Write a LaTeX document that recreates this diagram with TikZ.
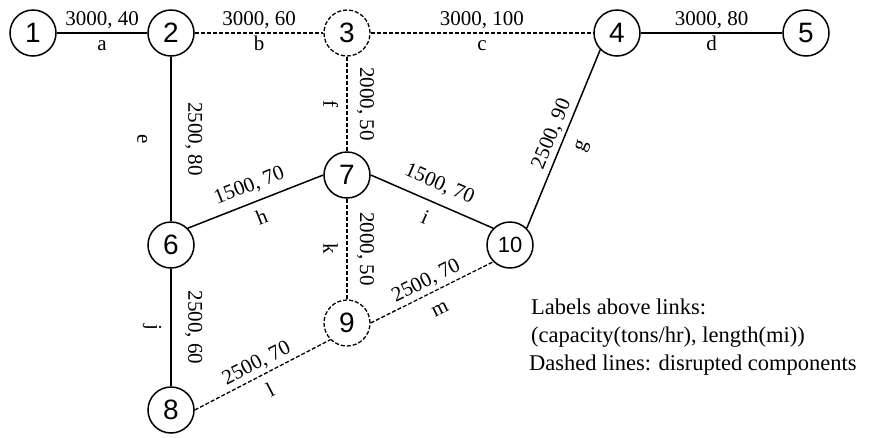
\documentclass[tikz,border=0pt]{standalone}
\usepackage{fontspec}
\setmainfont{Liberation Serif}
\newfontfamily\numfont{Liberation Sans}
\begin{document}
\begin{tikzpicture}[x=1pt,y=-1pt,
  vtx/.style={circle, draw, line width=1.5pt, minimum size=46pt, inner sep=0pt,
    font=\numfont\fontsize{28}{28}\selectfont},
  dvtx/.style={vtx, line width=1.3pt, dash pattern=on 4pt off 2pt},
  link/.style={line width=1.5pt},
  dlink/.style={line width=1.3pt, dash pattern=on 4pt off 2pt},
  lab/.style={font=\fontsize{21}{21}\selectfont, sloped, inner sep=2pt,
    text height=0.7em, text depth=0.25em},
  caplab/.style={lab, above=2pt},
  nmlab/.style={lab, below=8pt},
  farlab/.style={lab, below=14pt},
  legend/.style={font=\fontsize{22.5}{22.5}\selectfont, anchor=base west, inner sep=0pt}]
\useasboundingbox (0,0) rectangle (873,437);

\node[vtx] (n1) at (33,33) {1};
\node[vtx] (n2) at (171,33) {2};
\node[dvtx] (n3) at (347,33) {3};
\node[vtx] (n4) at (617,33) {4};
\node[vtx] (n5) at (806,33) {5};
\node[vtx] (n7) at (347,175) {7};
\node[vtx] (n6) at (171,245) {6};
\node[vtx, font=\numfont\fontsize{22}{22}\selectfont] (n10) at (510,245) {10};
\node[dvtx] (n9) at (347,323) {9};
\node[vtx] (n8) at (171,410) {8};

\draw[link]  (n1) -- node[caplab]{3000, 40} node[nmlab]{a} (n2);
\draw[dlink] (n2) -- node[caplab]{3000, 60} node[nmlab]{b} (n3);
\draw[dlink] (n3) -- node[caplab]{3000, 100} node[nmlab]{c} (n4);
\draw[link]  (n4) -- node[caplab]{3000, 80} node[nmlab]{d} (n5);
\draw[link]  (n2) -- node[caplab, above=10pt]{2500, 80} node[farlab, below=10pt]{e} (n6);
\draw[dlink] (n3) -- node[caplab, above=6pt]{2000, 50} node[farlab]{f} (n7);
\draw[link]  (n10.north east) -- node[caplab]{2500, 90} node[farlab]{g} (n4.south west);
\draw[link]  (n6.north east) -- node[caplab, above=4pt]{1500, 70} node[farlab]{h} (n7.west);
\draw[link]  (n7.east) -- node[caplab, above=6pt]{1500, 70} node[farlab]{i} (n10.north west);
\draw[link]  (n6) -- node[caplab, above=10pt]{2500, 60} node[farlab]{j} (n8);
\draw[dlink] (n7) -- node[caplab, above=6pt]{2000, 50} node[farlab]{k} (n9);
\draw[dlink] (n8.east) -- node[caplab]{2500, 70} node[farlab]{l} (n9.south west);
\draw[dlink] (n9.east) -- node[caplab]{2500, 70} node[farlab]{m} (n10.south west);

\node[legend] (leg1) at (531,314) {Labels above links:};
\node[legend] (leg2) at (531,342) {(capacity(tons/hr), length(mi))};
\node[legend] (leg3) at (529,370) {Dashed lines: disrupted components};
\end{tikzpicture}
\end{document}
